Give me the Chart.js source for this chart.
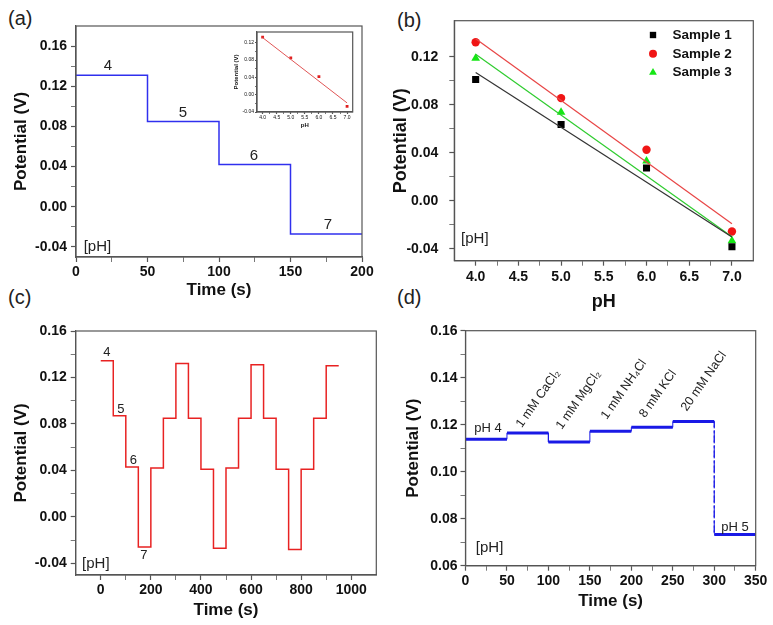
<!DOCTYPE html>
<html>
<head>
<meta charset="utf-8">
<script src="https://cdn.jsdelivr.net/npm/chart.js@4.4.0/dist/chart.umd.min.js"></script>
<style>
  body { margin: 0; background: #fff; }
  #page { position: relative; width: 773px; height: 625px; overflow: hidden; font-family: 'Liberation Sans', Arial, sans-serif; }
  canvas { position: absolute; }
  .tag { position: absolute; font-size: 20px; color: #222; line-height: 20px; }
</style>
</head>
<body>
<div id="page">
  <div class="tag" style="left:8px;top:8px">(a)</div>
  <div class="tag" style="left:397px;top:10px">(b)</div>
  <div class="tag" style="left:8px;top:287px">(c)</div>
  <div class="tag" style="left:397px;top:287px">(d)</div>
  <canvas id="ca"></canvas>
  <canvas id="cinset"></canvas>
  <canvas id="cb"></canvas>
  <canvas id="cc"></canvas>
  <canvas id="cd"></canvas>
</div>
<script>
// ---- data ----
// (a) potential vs time, one pH buffer per 50 s
const aTimes = [0, 50, 100, 150, 200];
const aPotential = [0.131, 0.085, 0.042, -0.027];
const aXTicks = [0, 50, 100, 150, 200];
const aYTicks = [-0.04, 0, 0.04, 0.08, 0.12, 0.16];

// (a) inset: calibration points and fit
const insetPH = [4, 5, 6, 7];
const insetPotential = [0.133, 0.085, 0.042, -0.027];
const insetFitPH = [4.0, 7.0];
const insetFit = [0.132, -0.019];
const insetXTicks = [4.0, 4.5, 5.0, 5.5, 6.0, 6.5, 7.0];
const insetYTicks = [-0.04, 0, 0.04, 0.08, 0.12];

// (b) three samples + linear fits
const bPH = [4, 5, 6, 7];
const sample1 = [0.101, 0.0635, 0.0273, -0.0384];
const sample2 = [0.132, 0.0855, 0.0425, -0.0257];
const sample3 = [0.1187, 0.0737, 0.0331, -0.0334];
const fitPH = [4.0, 7.0];
const fit1 = [0.1068, -0.0303];
const fit2 = [0.1349, -0.0193];
const fit3 = [0.122, -0.030];
const bXTicks = [4.0, 4.5, 5.0, 5.5, 6.0, 6.5, 7.0];
const bYTicks = [-0.04, 0, 0.04, 0.08, 0.12];

// (c) repeated cycling pH 4 -> 7 -> 4
const cTimes = [0, 50, 100, 150, 200, 250, 300, 350, 400, 450, 500, 550, 600, 650, 700, 750, 800, 850, 900, 950];
const cPotential = [0.1345, 0.087, 0.043, -0.026, 0.042, 0.085, 0.132, 0.085, 0.041, -0.027,
                    0.042, 0.085, 0.131, 0.085, 0.041, -0.028, 0.041, 0.085, 0.130];
const cXTicks = [0, 200, 400, 600, 800, 1000];
const cYTicks = [-0.04, 0, 0.04, 0.08, 0.12, 0.16];

// (d) interfering ions
const dTimes = [0, 50, 100, 150, 200, 250, 300, 350];
const dPotential = [0.1138, 0.1165, 0.1126, 0.1172, 0.1189, 0.1214, 0.0733];
const dIons = ['1 mM CaCl₂', '1 mM MgCl₂', '1 mM NH₄Cl', '8 mM KCl', '20 mM NaCl'];
const dXTicks = [0, 50, 100, 150, 200, 250, 300, 350];
const dYTicks = [0.06, 0.08, 0.10, 0.12, 0.14, 0.16];

// ---- helpers ----
const FONT = "'Liberation Sans', Arial, Helvetica, sans-serif";
Chart.defaults.font.family = FONT;
Chart.defaults.color = '#111';

const near = (list, v) => list.some(m => Math.abs(m - v) < 1e-9);
function withMinor(major) {
  const out = major.slice();
  for (let i = 0; i < major.length - 1; i++) out.push((major[i] + major[i + 1]) / 2);
  return out.sort((a, b) => a - b);
}
// corner points of a step trace
function steps(times, levels) {
  const pts = [];
  levels.forEach((v, i) => pts.push({ x: times[i], y: v }, { x: times[i + 1], y: v }));
  return pts;
}
// horizontal pieces only, broken by gaps
function flats(times, levels) {
  const pts = [];
  levels.forEach((v, i) => pts.push({ x: times[i], y: v }, { x: times[i + 1], y: v }, { x: times[i + 1], y: null }));
  return pts;
}
const pairs = (xs, ys) => xs.map((x, i) => ({ x, y: ys[i] }));

function axis(o) {
  return {
    type: 'linear', min: o.min, max: o.max,
    afterBuildTicks: s => { s.ticks = withMinor(o.major).map(v => ({ value: v })); },
    afterFit: s => { if (s.isHorizontal()) s.height = o.fit; else s.width = o.fit; },
    ticks: {
      autoSkip: false, maxRotation: 0, padding: o.pad, color: '#111',
      font: { size: o.size, weight: o.weight || 'bold' },
      callback: v => near(o.major, v) ? v.toFixed(o.digits) : ''
    },
    grid: {
      drawOnChartArea: false, tickLength: o.tl, tickColor: '#555',
      tickWidth: c => (c.tick && near(o.major, c.tick.value)) ? 1.2 : 0.8
    },
    border: { color: '#555', width: 1.2 },
    title: { display: true, text: o.title, color: '#111', font: { size: o.tsize, weight: 'bold' }, padding: o.tpad }
  };
}

const frame = {
  id: 'frame',
  afterDraw(chart) {
    const { ctx, chartArea: a } = chart;
    ctx.save();
    ctx.strokeStyle = '#555';
    ctx.lineWidth = 1.2;
    ctx.strokeRect(a.left, a.top, a.right - a.left, a.bottom - a.top);
    ctx.restore();
  }
};

function notes(list) {
  return {
    id: 'notes',
    afterDatasetsDraw(chart) {
      const { ctx, scales: { x, y } } = chart;
      list.forEach(n => {
        ctx.save();
        ctx.font = 'normal ' + n.size + 'px ' + FONT;
        ctx.fillStyle = '#222';
        ctx.translate(x.getPixelForValue(n.x), y.getPixelForValue(n.y));
        if (n.rot) {
          ctx.rotate(-n.rot * Math.PI / 180);
          ctx.textAlign = 'left';
          ctx.textBaseline = 'alphabetic';
        } else {
          ctx.textAlign = 'center';
          ctx.textBaseline = 'middle';
        }
        ctx.fillText(n.text, 0, 0);
        ctx.restore();
      });
    }
  };
}

function make(id, box, area, config) {
  const c = document.getElementById(id);
  c.width = box.w; c.height = box.h;
  c.style.left = box.x + 'px'; c.style.top = box.y + 'px';
  c.style.width = box.w + 'px'; c.style.height = box.h + 'px';
  config.options = Object.assign({
    responsive: false, animation: false, devicePixelRatio: 1,
    layout: { padding: { left: 0, bottom: 0, top: area.t - box.y, right: box.x + box.w - area.r } },
    plugins: { legend: { display: false }, tooltip: { enabled: false } }
  }, config.options);
  config.plugins = [frame].concat(config.plugins || []);
  return new Chart(c.getContext('2d'), config);
}

// ---- (a) ----
{
  const box = { x: 0, y: 0, w: 390, h: 310 }, area = { l: 76, t: 26, r: 362, b: 257 };
  make('ca', box, area, {
    type: 'line',
    data: { datasets: [{ data: steps(aTimes, aPotential), borderColor: '#3030ee', borderWidth: 1.5, pointRadius: 0 }] },
    options: {
      scales: {
        x: axis({ min: 0, max: 200, major: aXTicks, digits: 0, size: 14, tl: 5, pad: 2, fit: box.y + box.h - area.b,
                  title: 'Time (s)', tsize: 17, tpad: { top: 0, bottom: 9 } }),
        y: axis({ min: -0.05, max: 0.18, major: aYTicks, digits: 2, size: 14, tl: 5, pad: 4, fit: area.l - box.x,
                  title: 'Potential (V)', tsize: 17, tpad: { top: 11, bottom: 0 } })
      }
    },
    plugins: [notes([
      { text: '4', x: 22.4, y: 0.140, size: 15 },
      { text: '5', x: 74.8, y: 0.0933, size: 15 },
      { text: '6', x: 124.5, y: 0.0506, size: 15 },
      { text: '7', x: 176.2, y: -0.018, size: 15 },
      { text: '[pH]', x: 15, y: -0.040, size: 15 }
    ])]
  });
}

// ---- (a) inset ----
{
  const box = { x: 228, y: 28, w: 132, h: 102 }, area = { l: 257, t: 32, r: 352.7, b: 112 };
  make('cinset', box, area, {
    type: 'line',
    data: {
      datasets: [
        { data: pairs(insetFitPH, insetFit), borderColor: '#e05555', borderWidth: 1, pointRadius: 0 },
        { data: pairs(insetPH, insetPotential), showLine: false, pointStyle: 'rect', pointRadius: 2,
          backgroundColor: '#e02020', borderColor: '#e02020', borderWidth: 0 }
      ]
    },
    options: {
      scales: {
        x: axis({ min: 3.8, max: 7.2, major: insetXTicks, digits: 1, size: 5, tl: 2, pad: 1, fit: box.y + box.h - area.b,
                  title: 'pH', tsize: 6, tpad: { top: 0, bottom: 1.5 }, weight: 'normal' }),
        y: axis({ min: -0.04, max: 0.145, major: insetYTicks, digits: 2, size: 5, tl: 2, pad: 1, fit: area.l - box.x,
                  title: 'Potential (V)', tsize: 6, tpad: { top: 4.5, bottom: 0 }, weight: 'normal' })
      }
    }
  });
}

// ---- (b) ----
{
  const box = { x: 390, y: 0, w: 383, h: 315 }, area = { l: 454.3, t: 20.7, r: 753.3, b: 260.7 };
  const legend = {
    id: 'sampleLegend',
    afterDatasetsDraw(chart) {
      const { ctx } = chart;
      const rows = chart.data.datasets.filter(d => d.label);
      rows.forEach((d, i) => {
        const y = 35 + i * 18.8;
        ctx.save();
        ctx.fillStyle = d.backgroundColor;
        ctx.strokeStyle = d.backgroundColor;
        Chart.helpers.drawPoint(ctx, { pointStyle: d.pointStyle, radius: d.legendRadius, rotation: 0, borderWidth: 0 }, 653 - box.x, y);
        ctx.fillStyle = '#111';
        ctx.font = 'bold 13.5px ' + FONT;
        ctx.textAlign = 'left';
        ctx.textBaseline = 'middle';
        ctx.fillText(d.label, 672.5 - box.x, y);
        ctx.restore();
      });
    }
  };
  make('cb', box, area, {
    type: 'line',
    data: {
      datasets: [
        { data: pairs(fitPH, fit1), borderColor: '#333', borderWidth: 1.2, pointRadius: 0 },
        { data: pairs(fitPH, fit3), borderColor: '#2fcc2f', borderWidth: 1.2, pointRadius: 0 },
        { data: pairs(fitPH, fit2), borderColor: '#e84545', borderWidth: 1.2, pointRadius: 0 },
        { label: 'Sample 1', data: pairs(bPH, sample1), showLine: false, pointStyle: 'rect', pointRadius: 5, legendRadius: 4.5,
          backgroundColor: '#000', borderColor: '#000', borderWidth: 0 },
        { label: 'Sample 2', data: pairs(bPH, sample2), showLine: false, pointStyle: 'circle', pointRadius: 4.2, legendRadius: 4,
          backgroundColor: '#f01515', borderColor: '#f01515', borderWidth: 0 },
        { label: 'Sample 3', data: pairs(bPH, sample3), showLine: false, pointStyle: 'triangle', pointRadius: 5, legendRadius: 4.5,
          backgroundColor: '#15e615', borderColor: '#15e615', borderWidth: 0 }
      ]
    },
    options: {
      scales: {
        x: axis({ min: 3.75, max: 7.25, major: bXTicks, digits: 1, size: 14, tl: 5, pad: 3, fit: box.y + box.h - area.b,
                  title: 'pH', tsize: 18, tpad: { top: 0, bottom: 2.5 } }),
        y: axis({ min: -0.05, max: 0.15, major: bYTicks, digits: 2, size: 14, tl: 5, pad: 11, fit: area.l - box.x,
                  title: 'Potential (V)', tsize: 18, tpad: { top: 0, bottom: 0 } })
      }
    },
    plugins: [legend, notes([{ text: '[pH]', x: 3.99, y: -0.0315, size: 15 }])]
  });
}

// ---- (c) ----
{
  const box = { x: 0, y: 310, w: 390, h: 315 }, area = { l: 75.7, t: 331, r: 376.3, b: 575 };
  make('cc', box, area, {
    type: 'line',
    data: { datasets: [{ data: steps(cTimes, cPotential), borderColor: '#e82222', borderWidth: 1.5, pointRadius: 0 }] },
    options: {
      scales: {
        x: axis({ min: -100, max: 1100, major: cXTicks, digits: 0, size: 14, tl: 5, pad: 2, fit: box.y + box.h - area.b,
                  title: 'Time (s)', tsize: 17, tpad: { top: 0, bottom: 4.3 } }),
        y: axis({ min: -0.05, max: 0.16, major: cYTicks, digits: 2, size: 14, tl: 5, pad: 4, fit: area.l - box.x,
                  title: 'Potential (V)', tsize: 17, tpad: { top: 11.5, bottom: 0 } })
      }
    },
    plugins: [notes([
      { text: '4', x: 24, y: 0.1418, size: 13 },
      { text: '5', x: 80, y: 0.0924, size: 13 },
      { text: '6', x: 130, y: 0.0487, size: 13 },
      { text: '7', x: 172, y: -0.0334, size: 13 },
      { text: '[pH]', x: -19.5, y: -0.040, size: 15 }
    ])]
  });
}

// ---- (d) ----
{
  const box = { x: 390, y: 310, w: 383, h: 315 }, area = { l: 465.5, t: 330.7, r: 755.7, b: 565.7 };
  const dropIndex = steps(dTimes, dPotential).length - 2; // last vertical drawn dash-dot
  const ionSpots = [[67.8, 0.1185], [116, 0.1177], [170.3, 0.122], [216.5, 0.1227], [266.8, 0.1255]];
  make('cd', box, area, {
    type: 'line',
    data: {
      datasets: [
        { data: steps(dTimes, dPotential), borderColor: '#1a1ae6', borderWidth: 1, pointRadius: 0,
          segment: { borderDash: c => c.p1DataIndex === dropIndex ? [7, 3, 2, 3] : undefined } },
        { data: flats(dTimes, dPotential), borderColor: '#1a1ae6', borderWidth: 3, pointRadius: 0, spanGaps: false }
      ]
    },
    options: {
      scales: {
        x: axis({ min: 0, max: 350, major: dXTicks, digits: 0, size: 14, tl: 5, pad: 2, fit: box.y + box.h - area.b,
                  title: 'Time (s)', tsize: 17, tpad: { top: 0, bottom: 13 } }),
        y: axis({ min: 0.06, max: 0.16, major: dYTicks, digits: 2, size: 14, tl: 5, pad: 3, fit: area.l - box.x,
                  title: 'Potential (V)', tsize: 17, tpad: { top: 13.5, bottom: 0 } })
      }
    },
    plugins: [notes([
      { text: 'pH 4', x: 27, y: 0.1186, size: 13 },
      ...dIons.map((t, i) => ({ text: t, x: ionSpots[i][0], y: ionSpots[i][1], size: 12.5, rot: 55 })),
      { text: 'pH 5', x: 325, y: 0.0765, size: 13 },
      { text: '[pH]', x: 29, y: 0.0675, size: 15 }
    ])]
  });
}
</script>
</body>
</html>
